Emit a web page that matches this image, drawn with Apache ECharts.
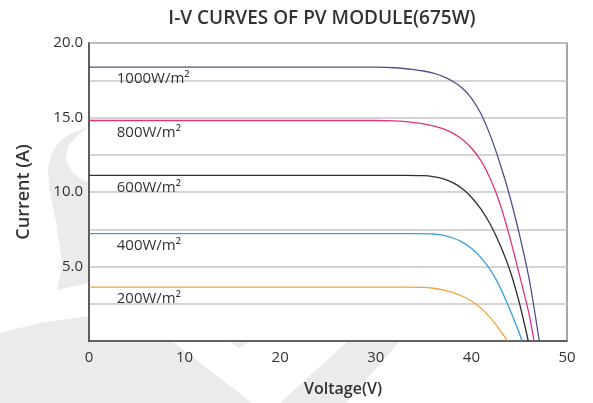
<!DOCTYPE html>
<html>
<head>
<meta charset="utf-8">
<script src="https://cdn.jsdelivr.net/npm/echarts@6/dist/echarts.min.js"></script>
<style>
html,body{margin:0;padding:0;background:#fff;}
#c{width:593px;height:403px;}
</style>
</head>
<body>
<div id="c"></div>
<script>
// ---- data ----
var seriesNames = ['1000W/m²', '800W/m²', '600W/m²', '400W/m²', '200W/m²'];
var volt1000 = [0, 30, 32, 34, 35, 36, 37, 38, 39, 40, 41, 42, 43, 44, 45, 46, 46.5, 47.1];
var curr1000 = [18.38, 18.38, 18.34, 18.22, 18.12, 17.97, 17.76, 17.45, 17.0, 16.3, 15.25, 13.75, 11.9, 9.75, 7.2, 4.3, 2.45, 0];
var volt800 = [0, 30, 32, 34, 35, 36, 37, 38, 39, 40, 41, 42, 43, 44, 45, 46, 46.55];
var curr800 = [14.8, 14.8, 14.77, 14.66, 14.57, 14.44, 14.25, 13.97, 13.55, 12.95, 12.1, 10.85, 9.2, 7.0, 4.5, 1.9, 0];
var volt600 = [0, 33, 35, 36, 37, 38, 39, 40, 41, 42, 43, 44, 45, 45.95];
var curr600 = [11.12, 11.12, 11.1, 11.03, 10.9, 10.65, 10.25, 9.65, 8.85, 7.8, 6.45, 4.8, 2.6, 0];
var volt400 = [0, 34, 36, 37, 38, 39, 40, 41, 42, 43, 44, 45, 45.3];
var curr400 = [7.2, 7.2, 7.18, 7.1, 6.93, 6.65, 6.22, 5.6, 4.75, 3.6, 2.15, 0.55, 0];
var volt200 = [0, 33, 35, 36, 37, 38, 39, 40, 41, 42, 43, 43.8];
var curr200 = [3.62, 3.62, 3.6, 3.54, 3.43, 3.26, 3.02, 2.68, 2.2, 1.55, 0.72, 0];
var xTicks = [0, 10, 20, 30, 40, 50];
var yLabelValues = [5, 10, 15, 20];

var volts = [volt1000, volt800, volt600, volt400, volt200];
var currs = [curr1000, curr800, curr600, curr400, curr200];
var colors = ['#4f4f90', '#de3280', '#2e2e2e', '#3b9edb', '#f2a33a'];

var series = seriesNames.map(function (name, i) {
  var d = volts[i].map(function (v, j) { return [v, currs[i][j]]; });
  return {
    name: name,
    type: 'line',
    data: d,
    smooth: 0.3,
    showSymbol: false,
    symbol: 'none',
    lineStyle: { color: colors[i], width: 1.3 },
    z: 3,
    markPoint: {
      symbol: 'rect',
      symbolSize: 0,
      data: [{ coord: [2.9, currs[i][0]] }],
      label: {
        show: true,
        formatter: name,
        position: 'right',
        offset: [-5, 12],
        color: '#333',
        fontSize: 15,
        fontFamily: 'Open Sans'
      }
    }
  };
});

var grey = '#ebebed';
var chart = echarts.init(document.getElementById('c'), null, { renderer: 'canvas' });
chart.setOption({
  backgroundColor: '#fff',
  animation: false,
  title: {
    text: 'I-V CURVES OF PV MODULE(675W)',
    left: 317,
    textAlign: 'center',
    top: 4,
    textStyle: { fontSize: 19, fontWeight: 600, color: '#333', fontFamily: 'Open Sans' }
  },
  graphic: [
    { type: 'polygon', z: -10, shape: { points: [[88,127],[72,133],[60,141],[52,152],[48,168],[49,186],[52,202],[56,222],[59,242],[62,260],[60,276],[57,290],[89,283],[89,183],[79,178],[71,170],[66,160],[68,147],[77,136]] }, style: { fill: grey } },
    { type: 'polygon', z: -10, shape: { points: [[0,333],[40,323],[89,316],[89,341],[172,341],[252,403],[0,403]] }, style: { fill: grey } },
    { type: 'polygon', z: -10, shape: { points: [[228,341],[250,341],[239,348]] }, style: { fill: grey } },
    { type: 'polygon', z: -10, shape: { points: [[348,341],[400,341],[346,403],[280,403]] }, style: { fill: grey } }
  ],
  grid: {
    left: 89, right: 26, top: 43, bottom: 62,
    show: true, backgroundColor: '#fff', borderColor: '#8a8a8a', borderWidth: 1.5
  },
  xAxis: {
    type: 'value', min: 0, max: 50, interval: 10,
    name: 'Voltage(V)', nameLocation: 'middle', nameGap: 40,
    nameTextStyle: { fontSize: 16, fontWeight: 600, color: '#333', fontFamily: 'Open Sans', padding: [0, 0, 0, 30] },
    axisLine: { show: true, lineStyle: { color: '#444', width: 1.5 } },
    axisTick: { show: false },
    splitLine: { show: false },
    axisLabel: {
      color: '#333', fontSize: 15, margin: 9, fontFamily: 'Open Sans',
      formatter: function (v) { return xTicks.indexOf(v) >= 0 ? String(v) : ''; }
    }
  },
  yAxis: {
    type: 'value', min: 0, max: 20, interval: 2.5,
    name: 'Current (A)', nameLocation: 'middle', nameGap: 56,
    nameTextStyle: { fontSize: 18, fontWeight: 600, color: '#333', fontFamily: 'Open Sans' },
    axisLine: { show: true, lineStyle: { color: '#444', width: 1.5 } },
    axisTick: { show: false },
    splitLine: { show: true, lineStyle: { color: '#c6c6c6', width: 1.5 } },
    axisLabel: {
      color: '#333', fontSize: 15, margin: 6, fontFamily: 'Open Sans',
      formatter: function (v) { return yLabelValues.indexOf(v) >= 0 ? v.toFixed(1) : ''; }
    }
  },
  series: series
});
</script>
</body>
</html>
